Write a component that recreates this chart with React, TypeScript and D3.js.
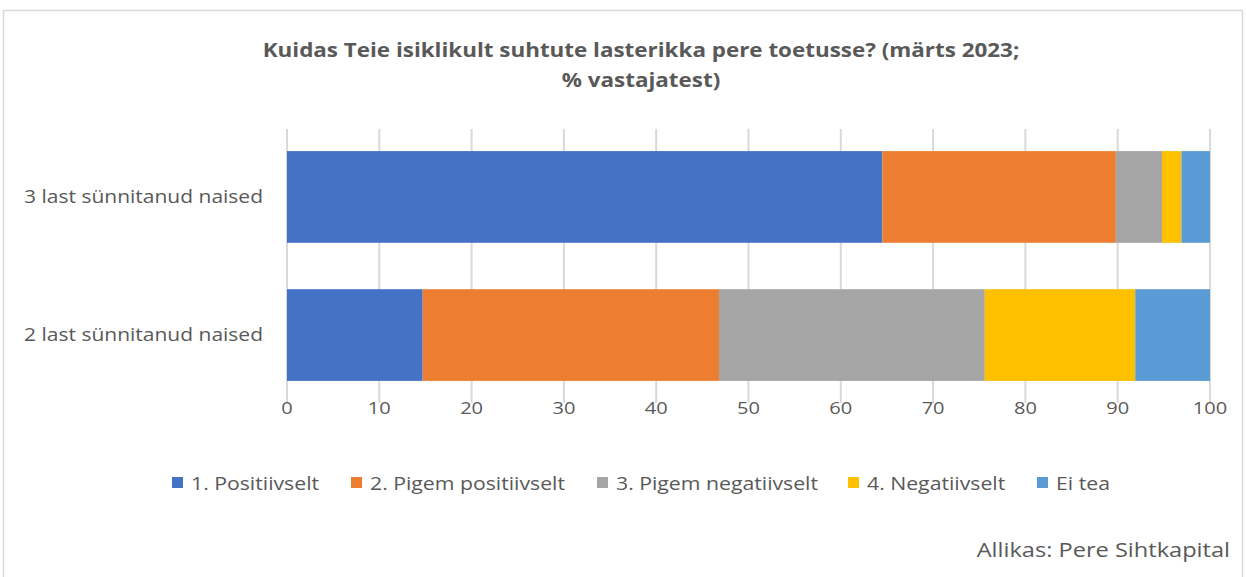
import { useEffect, useRef } from 'react';
import * as d3 from 'd3';

const categories = ['3 last sünnitanud naised', '2 last sünnitanud naised'];
const seriesNames = ['1. Positiivselt', '2. Pigem positiivselt', '3. Pigem negatiivselt', '4. Negatiivselt', 'Ei tea'];
const positiivselt = [64.5, 14.7];
const pigemPositiivselt = [25.3, 32.1];
const pigemNegatiivselt = [5.0, 28.8];
const negatiivselt = [2.1, 16.3];
const eiTea = [3.1, 8.1];
const xTicks = [0, 10, 20, 30, 40, 50, 60, 70, 80, 90, 100];
const colors = ['#4472C4', '#ED7D31', '#A5A5A5', '#FFC000', '#5B9BD5'];

const FONT = '"Open Sans", sans-serif';
// the source picture is a bit stretched sideways
const SX = 1.18;

export default function App() {
  const ref = useRef<SVGSVGElement>(null);

  useEffect(() => {
    const width = 1246;
    const height = 577;
    const svg = d3.select(ref.current).attr('width', width).attr('height', height);
    svg.selectAll('*').remove();

    svg.append('rect')
      .attr('x', 3.5).attr('y', 10.5).attr('width', 1239).attr('height', 600)
      .attr('fill', 'white').attr('stroke', '#d9d9d9').attr('stroke-width', 1.5);

    const plotTop = 129;
    const plotBottom = 403;
    const xScale = d3.scaleLinear().domain([0, 100]).range([287, 1210]);
    const yScale = d3.scaleBand().domain(categories).range([plotTop, plotBottom]).paddingInner(0.336).paddingOuter(0.16);

    // grid
    svg.append('g')
      .selectAll('line')
      .data(xTicks)
      .join('line')
      .attr('x1', d => xScale(d)).attr('x2', d => xScale(d))
      .attr('y1', plotTop).attr('y2', plotBottom)
      .attr('stroke', '#d9d9d9').attr('stroke-width', 2);

    const table = categories.map((c, i) => {
      const values = [positiivselt[i], pigemPositiivselt[i], pigemNegatiivselt[i], negatiivselt[i], eiTea[i]];
      const o: any = { cat: c };
      seriesNames.forEach((s, j) => { o[s] = values[j]; });
      return o;
    });
    const stacked = d3.stack().keys(seriesNames)(table);

    svg.append('g')
      .selectAll('g')
      .data(stacked)
      .join('g')
      .attr('fill', (_, i) => colors[i])
      .selectAll('rect')
      .data(d => d)
      .join('rect')
      .attr('x', d => xScale(d[0]))
      .attr('width', d => xScale(d[1]) - xScale(d[0]))
      .attr('y', d => yScale((d.data as any).cat)!)
      .attr('height', yScale.bandwidth());

    // x axis labels
    svg.append('g')
      .selectAll('text')
      .data(xTicks)
      .join('text')
      .attr('transform', d => `translate(${xScale(d)}, 414) scale(${SX}, 1)`)
      .attr('text-anchor', 'middle')
      .attr('font-family', FONT)
      .attr('font-size', 17)
      .attr('fill', '#595959')
      .text(d => d);

    // category labels
    svg.append('g')
      .selectAll('text')
      .data(categories)
      .join('text')
      .attr('transform', d => `translate(263, ${yScale(d)! + yScale.bandwidth() / 2 + 6}) scale(${SX}, 1)`)
      .attr('text-anchor', 'end')
      .attr('font-family', FONT)
      .attr('font-size', 17.8)
      .attr('fill', '#595959')
      .text(d => d);

    // title
    const title = svg.append('text')
      .attr('transform', `translate(641, 0) scale(${SX}, 1)`)
      .attr('text-anchor', 'middle')
      .attr('font-family', FONT)
      .attr('font-size', 19)
      .attr('font-weight', 'bold')
      .attr('fill', '#595959');
    title.append('tspan').attr('x', 0).attr('y', 57).text('Kuidas Teie isiklikult suhtute lasterikka pere toetusse? (märts 2023;');
    title.append('tspan').attr('x', 0).attr('y', 87).text('% vastajatest)');

    // legend
    const legendX = [172, 351, 597, 848, 1037];
    const legend = svg.append('g')
      .selectAll('g')
      .data(seriesNames)
      .join('g')
      .attr('transform', (_, i) => `translate(${legendX[i]}, 483)`);
    legend.append('rect')
      .attr('x', 0).attr('y', -6).attr('width', 11).attr('height', 11)
      .attr('fill', (_, i) => colors[i]);
    legend.append('text')
      .attr('transform', `translate(19, 7) scale(${SX}, 1)`)
      .attr('font-family', FONT)
      .attr('font-size', 18)
      .attr('fill', '#595959')
      .text(d => d);

    svg.append('text')
      .attr('transform', `translate(1230, 557) scale(${SX}, 1)`)
      .attr('text-anchor', 'end')
      .attr('font-family', FONT)
      .attr('font-size', 20)
      .attr('fill', '#595959')
      .text('Allikas: Pere Sihtkapital');
  }, []);

  return <svg ref={ref} style={{ position: 'absolute', left: 0, top: 0 }}></svg>;
}
